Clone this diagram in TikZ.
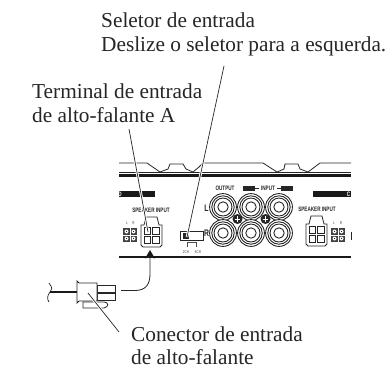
\documentclass[tikz,border=0pt]{standalone}
\usepackage{fontspec}
\setmainfont{Liberation Serif}
\newfontfamily\labelsans[FakeStretch=0.72]{Liberation Sans}
\usetikzlibrary{arrows.meta,calc}
\tikzset{
  caption/.style={anchor=base west,inner sep=0pt,font=\fontsize{21.3}{24}\selectfont,align=left,text=black!85},
  tiny/.style={inner sep=0pt,font=\labelsans\bfseries\fontsize{6.4}{7}\selectfont,text=black!85},
  micro/.style={inner sep=0pt,font=\labelsans\fontsize{4.2}{4}\selectfont,text=black!75},
  lr/.style={inner sep=0pt,font=\labelsans\bfseries\fontsize{9.5}{10}\selectfont,text=black!85},
  leader/.style={draw=black!85,line width=0.7pt,preaction={draw=white,line width=2.6pt}},
  part/.style={draw=black!85,line width=0.8pt,fill=white},
  body/.style={draw=black!85,line width=0.7pt},
}
\newcommand{\rcajack}[1]{%
  \fill[white] (#1) circle (14);
  \draw[black!85,line width=0.9pt] (#1) circle (13.4) (#1) circle (11.2) (#1) circle (9) (#1) circle (5.2);
}
\newcommand{\screwhead}[1]{%
  \fill[black!85] (#1) circle (5);
  \draw[white,line width=1pt] ($(#1)+(-2.8,0)$) -- ($(#1)+(2.8,0)$) ($(#1)+(0,-2.8)$) -- ($(#1)+(0,2.8)$);
}
\newcommand{\termblock}[1]{%
  \begin{scope}[shift={(#1)}]
    \fill[black!75] (0,0) rectangle (14,14);
    \foreach \px/\py in {3.5/3.5,10.5/3.5,3.5/10.5,10.5/10.5}{\fill[white] (\px,\py) circle (2);\fill[black!85] (\px,\py) circle (0.7);}
    \draw[white,line width=0.7pt] (0,7)--(14,7) (7,0)--(7,14);
  \end{scope}}
\newcommand{\fourpin}[1]{%
  \begin{scope}[shift={(#1)}]
    \draw[part] (0,8) -- (3,8) -- (5,0) -- (16,0) -- (18,8) -- (21,8) -- (21,28) -- (19,30) -- (2,30) -- (0,28) -- cycle;
    \foreach \px/\py in {3/10,11.2/10,3/19,11.2/19}{\draw[body] (\px,\py) rectangle ++(6.8,7.5);}
  \end{scope}}
\begin{document}
\begin{tikzpicture}[x=1pt,y=-1pt]
\useasboundingbox (0,0) rectangle (390,368);
\fill[white] (0,0) rectangle (390,368);

% housing outline
\draw[black!85,line width=0.8pt] (119,163) -- (147,163) -- (160,172) -- (168,169) -- (170,164) -- (183,164) -- (186,169) -- (193,172) -- (199,167) -- (203,163) -- (263,163) -- (277,172) -- (284,169) -- (285,164) -- (298,164) -- (300,169) -- (308,172) -- (320,163) -- (351,163);
\fill[black!85] (119,171.5) rectangle (351,172.3);
\fill[black!90] (119,173.5) rectangle (351,177);

% black strips
\fill[black!90] (119,191) rectangle (155,197);
\fill[black!90] (313,191) rectangle (351,197);
\node[tiny,text=white] (stripleft) at (120,194) {D};
\node[tiny,text=white] (stripright) at (348.5,194) {C};

% bottom edge
\fill[black!90] (119,256) rectangle (351,258);

% left block
\node[tiny] (spkleft) at (151,210) {SPEAKER INPUT};
\node[micro] (ll) at (127,223.5) {L};
\node[micro] (lrr) at (133.5,223.5) {R};
\termblock{123,228}
\fourpin{141,217}

% selector
\draw[part] (180,231) rectangle (203,240);
\fill[black!85] (183,232.5) rectangle (189,239);
\draw[black!70,line width=0.5pt] (187,247) -- (187,242) -- (196,242) -- (196,247);
\node[micro] (twoch) at (186,252) {2CH};
\node[micro] (fourch) at (198,252) {4CH};

% RCA jacks
\rcajack{223,207}\rcajack{251,207}\rcajack{279,207}
\rcajack{223,233}\rcajack{251,233}\rcajack{279,233}
\screwhead{237.5,219}\screwhead{265.5,219}
\node[tiny] (output) at (225,188) {OUTPUT};
\node[tiny] (input) at (268,188) {INPUT};
\fill[black!85] (243,185.5) rectangle (255,190.5);
\fill[black!85] (281,185.5) rectangle (293,190.5);
\draw[black!85,line width=0.8pt] (255,188) -- (259,188) (277,188) -- (281,188);
\node[lr] (lch) at (206.5,208) {L};
\node[lr] (rch) at (206.5,233) {R};

% right block
\node[tiny] (spkright) at (317,209) {SPEAKER INPUT};
\fourpin{306,216}
\node[micro] (rl) at (334,223) {L};
\node[micro] (rr) at (341,223) {R};
\termblock{331,228}
\draw[black!85,line width=0.7pt] (351,232) -- (351,240);

% plug
\draw[black!85,line width=0.7pt] (49,283) .. controls (53,288) and (52,290) .. (50,292) .. controls (47,296) and (47,299) .. (49,302);
\coordinate (wireend) at (50,292);
\draw[black!90,line width=1.4pt] (wireend) -- (77,292);
\draw[part] (97,285) rectangle (115,292);
\draw[part] (97,293.5) rectangle (115,300.5);
\draw[part] (83,302) -- (104,302) .. controls (109,302) and (109,307) .. (104,308) -- (83,308) -- cycle;
\draw[part] (77,281) -- (79,283) -- (97,283) -- (97,301) -- (79,301) -- (77,303) -- cycle;

% caption texts
\node[caption] (seletor) at (101,27) {Seletor de entrada};
\node[caption] (deslize) at (101,51) {Deslize o seletor para a esquerda.};
\node[caption] (terminal) at (32,98) {Terminal de entrada};
\node[caption] (terminalb) at (32,122) {de alto-falante A};
\node[caption] (conector) at (131,341) {Conector de entrada};
\node[caption] (conectorb) at (131,364) {de alto-falante};

% leaders
\coordinate (leadsela) at (224,66);
\coordinate (leadselb) at (187,237);
\coordinate (leadtera) at (129,129);
\coordinate (leadterb) at (148,232);
\coordinate (leadcona) at (119,332);
\coordinate (leadconb) at (88,293);
\draw[leader] (leadsela) -- (leadselb);
\draw[leader] (leadtera) -- (leadterb);
\draw[leader] (leadcona) -- (leadconb);

% arrow from plug to connector
\coordinate (arrowstart) at (121,290.5);
\coordinate (arrowtip) at (150,250);
\draw[black!85,line width=0.8pt] (arrowstart) -- (135,290.5) .. controls (146,290.5) and (150,284) .. (150,274) -- (150,256);
\fill[black!90] (arrowtip) -- (155,258.5) -- (150,256.5) -- (145,258.5) -- cycle;
\end{tikzpicture}
\end{document}
